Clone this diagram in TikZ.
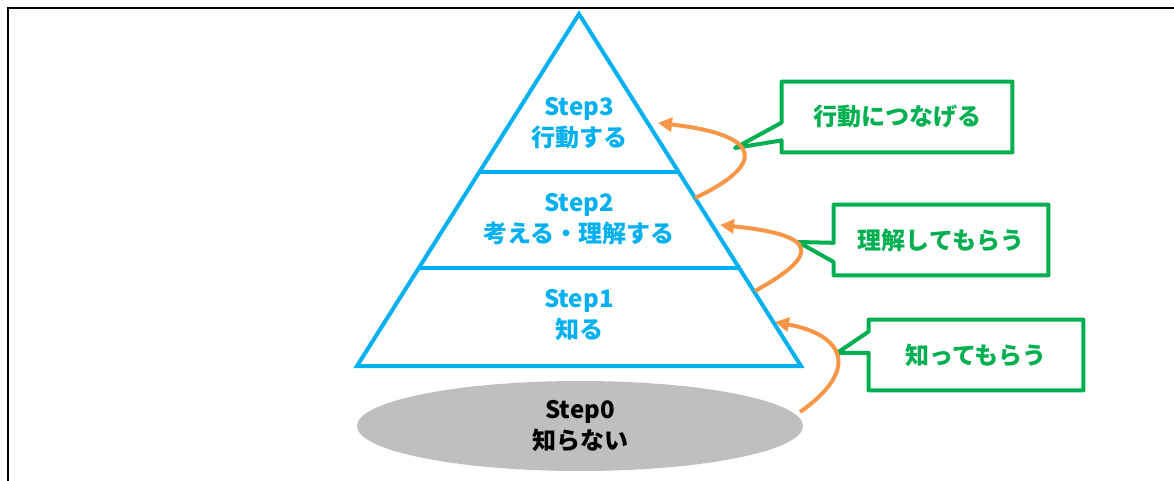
\documentclass[tikz,border=0pt]{standalone}
\usepackage{fontspec}
\setmainfont{Noto Sans CJK JP}
\usetikzlibrary{shapes.geometric,arrows.meta,calc}
\definecolor{skyblue}{HTML}{00B0F0}
\definecolor{leafgreen}{HTML}{00B050}
\definecolor{tangerine}{HTML}{F79646}
\definecolor{ash}{HTML}{BFBFBF}

\begin{document}
\begin{tikzpicture}[x=0.5pt,y=-0.5pt,
    lvl/.style={align=center,text=skyblue,font=\bfseries\fontsize{12}{15.5}\selectfont},
    tag/.style={minimum width=107pt,minimum height=35pt,inner sep=0pt,text=leafgreen,font=\bfseries\fontsize{12}{14}\selectfont},
    callline/.style={leafgreen,line width=2pt,line join=round},
    flow/.style={tangerine,line width=2pt,-{Triangle[length=7pt,width=7pt]}}]
  \useasboundingbox (0,0) rectangle (1174,481);
  \draw[line width=0.8pt] (8,8) rectangle (1200,500);
  % base
  \node[ellipse,fill=ash,minimum width=223pt,minimum height=45pt,inner sep=0pt,align=center,
        font=\bfseries\fontsize{12}{15.5}\selectfont] (s0) at (580,426) {Step0\\知らない};
  % pyramid
  \coordinate (top) at (579,14);
  \coordinate (bl) at (357,366);
  \coordinate (br) at (801,366);
  \draw[skyblue,line width=2pt] (top) -- (br) -- (bl) -- cycle;
  \draw[skyblue,line width=2pt] ($(top)!.449!(bl)$) -- ($(top)!.449!(br)$);
  \draw[skyblue,line width=2pt] ($(top)!.7216!(bl)$) -- ($(top)!.7216!(br)$);
  \foreach \n/\y/\txt in {3/123/行動する, 2/219/考える・理解する, 1/315/知る}
    \node[lvl] (s\n) at (579,\y) {Step\n\\\txt};
  % callouts
  \node[tag,minimum width=115pt] (b1) at (897,117) {行動につなげる};
  \node[tag] (b2) at (941,240) {理解してもらう};
  \node[tag] (b3) at (976,355) {知ってもらう};
  \coordinate (t1) at (735,148);
  \coordinate (t2) at (798,242);
  \coordinate (t3) at (837,353);
  \foreach \i/\p/\q in {1/.58/.83, 2/.54/.81, 3/.17/.47}
    \draw[callline] (b\i.north west) -- (b\i.north east) -- (b\i.south east) -- (b\i.south west)
      -- ($(b\i.north west)!\q!(b\i.south west)$) -- (t\i) -- ($(b\i.north west)!\p!(b\i.south west)$) -- cycle;
  % arrows
  \coordinate (a1) at (695,198);
  \coordinate (e1) at (658,123);
  \coordinate (a2) at (755,291);
  \coordinate (e2) at (720,225);
  \coordinate (a3) at (800,412);
  \coordinate (e3) at (775,322);
  \draw[flow] (a1) .. controls +(70,-33) and +(107,12) .. (e1);
  \draw[flow] (a2) .. controls +(65,-36) and +(100,10) .. (e2);
  \draw[flow] (a3) .. controls +(60,-42) and +(70,13) .. (e3);
\end{tikzpicture}
\end{document}
